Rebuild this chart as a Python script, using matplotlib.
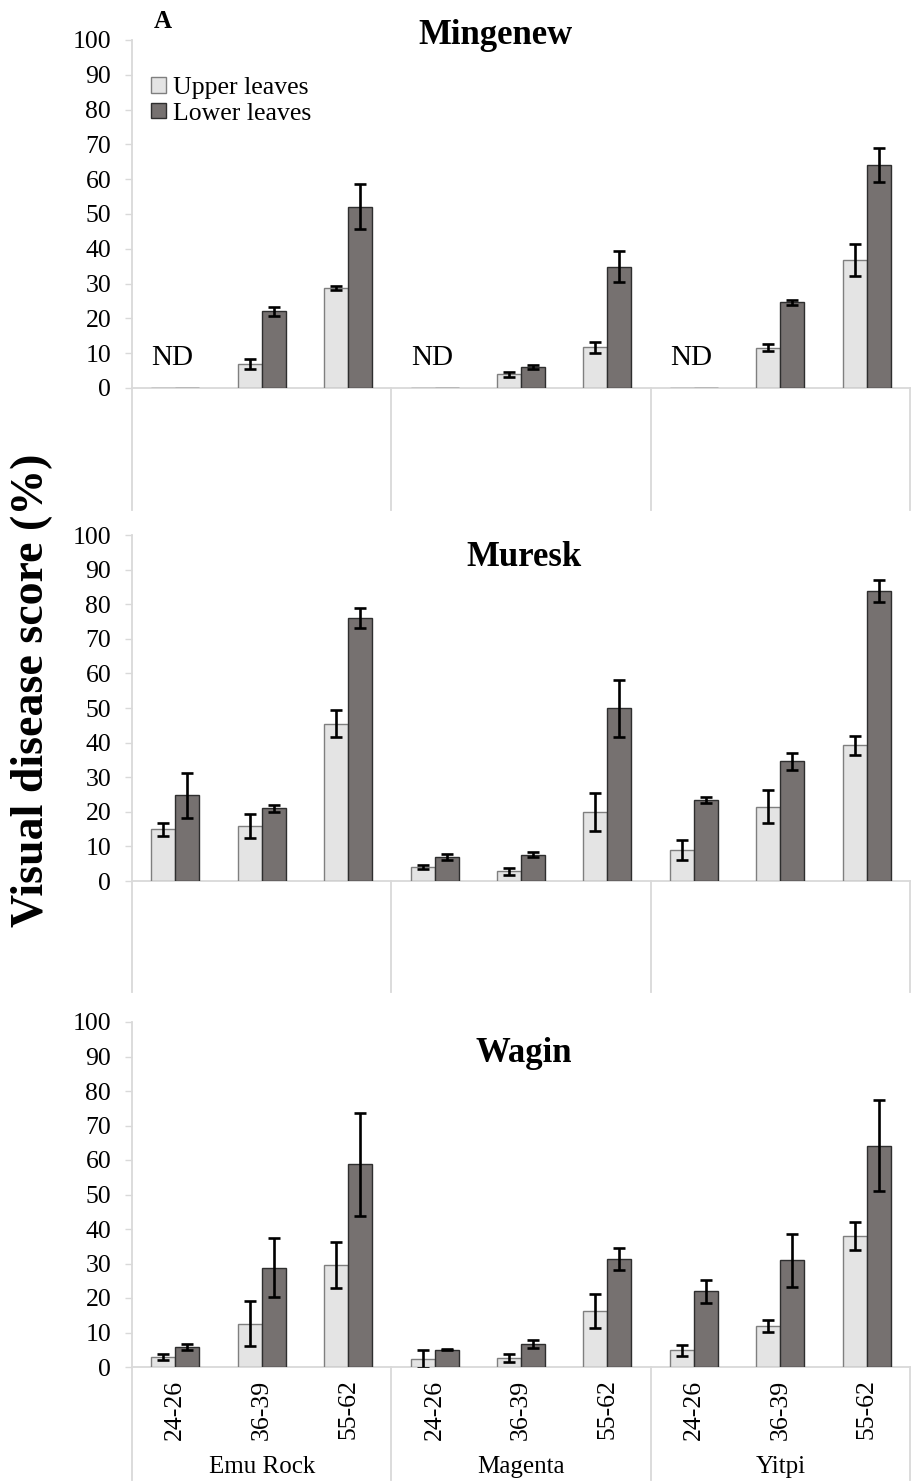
import numpy as np
import matplotlib
matplotlib.use("Agg")
import matplotlib.pyplot as plt
from matplotlib.patches import Patch
from matplotlib.transforms import blended_transform_factory

plt.rcParams['font.family'] = ['Liberation Serif', 'DejaVu Serif']

cultivars = ["Emu Rock", "Magenta", "Yitpi"]
stages = ["24-26", "36-39", "55-62"]
sites = ["Mingenew", "Muresk", "Wagin"]

# Mean visual disease score (%) per cultivar x growth stage; ND entries are 0
upper_mingenew = [0, 6.9, 28.7, 0, 3.9, 11.7, 0, 11.6, 36.8]
lower_mingenew = [0, 22.1, 52.1, 0, 6.0, 34.9, 0, 24.6, 64.1]
upper_err_mingenew = [0, 1.5, 0.6, 0, 0.6, 1.6, 0, 1.1, 4.5]
lower_err_mingenew = [0, 1.3, 6.5, 0, 0.6, 4.5, 0, 0.8, 4.8]

upper_muresk = [14.9, 16.0, 45.5, 4.0, 2.8, 19.9, 9.0, 21.5, 39.2]
lower_muresk = [24.8, 21.0, 76.0, 7.0, 7.6, 49.9, 23.4, 34.6, 83.8]
upper_err_muresk = [2.0, 3.5, 4.0, 0.5, 1.1, 5.4, 2.8, 4.7, 2.7]
lower_err_muresk = [6.5, 1.0, 3.0, 0.8, 0.8, 8.2, 0.8, 2.5, 3.2]

upper_wagin = [2.9, 12.6, 29.5, 2.2, 2.7, 16.3, 4.9, 11.9, 38.0]
lower_wagin = [5.8, 28.8, 58.8, 5.0, 6.7, 31.3, 21.9, 30.9, 64.1]
upper_err_wagin = [0.9, 6.6, 6.6, 2.6, 1.2, 4.9, 1.6, 1.7, 4.0]
lower_err_wagin = [0.85, 8.6, 14.9, 0.1, 1.2, 3.1, 3.3, 7.7, 13.2]

nd_label = "ND"

panels = [
    (upper_mingenew, lower_mingenew, upper_err_mingenew, lower_err_mingenew),
    (upper_muresk, lower_muresk, upper_err_muresk, lower_err_muresk),
    (upper_wagin, lower_wagin, upper_err_wagin, lower_err_wagin),
]

W, H = 915, 1484
fig = plt.figure(figsize=(W / 100, H / 100), dpi=100)

# axes geometry in pixels: (top of 100 line, 0 baseline, bottom of separators)
geom = [(40, 388, 510), (535, 881, 992), (1022, 1367, 1480)]
left_px, right_px = 132, 910

upper_face, upper_edge = "#e4e4e4", "#7f7f7f"
lower_face, lower_edge = "#767170", "#2e2e2e"
grid_col = "#d9d9d9"

bw = 0.278
x = np.arange(len(cultivars) * len(stages))

title_pos = [(0.467, 1.012), (0.504, 0.934), (0.504, 0.91)]

for i, (ax_geom, data) in enumerate(zip(geom, panels)):
    top, base, sep_bottom = ax_geom
    ax = fig.add_axes([left_px / W, 1 - base / H, (right_px - left_px) / W, (base - top) / H])
    up, lo, ue, le = data
    ax.bar(x - bw / 2, up, bw, color=upper_face, edgecolor=upper_edge, linewidth=1.0, zorder=3)
    ax.bar(x + bw / 2, lo, bw, color=lower_face, edgecolor=lower_edge, linewidth=1.0, zorder=3)
    ekw = dict(fmt="none", ecolor="black", elinewidth=1.9, capsize=4.0, capthick=1.9, zorder=4)
    ue_m = np.array(ue, dtype=float)
    le_m = np.array(le, dtype=float)
    mask_u = ue_m > 0
    mask_l = le_m > 0
    ax.errorbar((x - bw / 2)[mask_u], np.array(up)[mask_u], yerr=ue_m[mask_u], **ekw)
    ax.errorbar((x + bw / 2)[mask_l], np.array(lo)[mask_l], yerr=le_m[mask_l], **ekw)

    ax.set_xlim(-0.5, 8.5)
    ax.set_ylim(0, 100)
    ax.set_yticks(np.arange(0, 101, 10))
    ax.tick_params(axis="y", length=5, width=1.0, color=grid_col, pad=10, labelsize=18.5)
    for s in ax.spines.values():
        s.set_visible(False)

    # baseline and category separators
    ax.plot([-0.5, 8.5], [0, 0], color=grid_col, lw=1.3, clip_on=False, zorder=2)
    ext = -(sep_bottom - base) / (base - top)
    tr = blended_transform_factory(ax.transData, ax.transAxes)
    for xs in [-0.5, 2.5, 5.5, 8.5]:
        y0 = ext
        y1 = 1.0 if xs == -0.5 else 0.0
        ax.plot([xs, xs], [y0, y1], color=grid_col, lw=1.3, transform=tr, clip_on=False, zorder=2)

    # ND markers where no disease was recorded
    for k in range(len(x)):
        if up[k] == 0 and lo[k] == 0:
            ax.text(x[k] - 0.03, 5.0, nd_label, ha="center", va="bottom", fontsize=21)

    ax.text(title_pos[i][0], title_pos[i][1], sites[i], transform=ax.transAxes,
            ha="center", va="center", fontsize=25, fontweight="bold")

    if i == 2:
        ax.set_xticks(x)
        ax.set_xticklabels(stages * len(cultivars), rotation=90, fontsize=18.5)
        ax.tick_params(axis="x", length=0, pad=9)
        for j, c in enumerate(cultivars):
            ax.text(j * 3 + 1, -0.29, c, transform=tr, ha="center", va="center", fontsize=18)
    else:
        ax.set_xticks([])

    if i == 0:
        ax.text(0.04, 1.052, "A", transform=ax.transAxes, ha="center", va="center",
                fontsize=18, fontweight="bold")
        handles = [Patch(facecolor=upper_face, edgecolor=upper_edge, linewidth=1.0),
                   Patch(facecolor=lower_face, edgecolor=lower_edge, linewidth=1.0)]
        ax.legend(handles, ["Upper leaves", "Lower leaves"], loc="upper left",
                  bbox_to_anchor=(0.025, 0.894), frameon=False, fontsize=18.5,
                  handlelength=0.55, handleheight=0.55, handletextpad=0.3,
                  labelspacing=0.15, borderpad=0, borderaxespad=0)

fig.text(0.035, 0.535, "Visual disease score (%)", rotation=90, ha="center", va="center",
         fontsize=33, fontweight="bold")

fig.savefig("out.png", dpi=100)
